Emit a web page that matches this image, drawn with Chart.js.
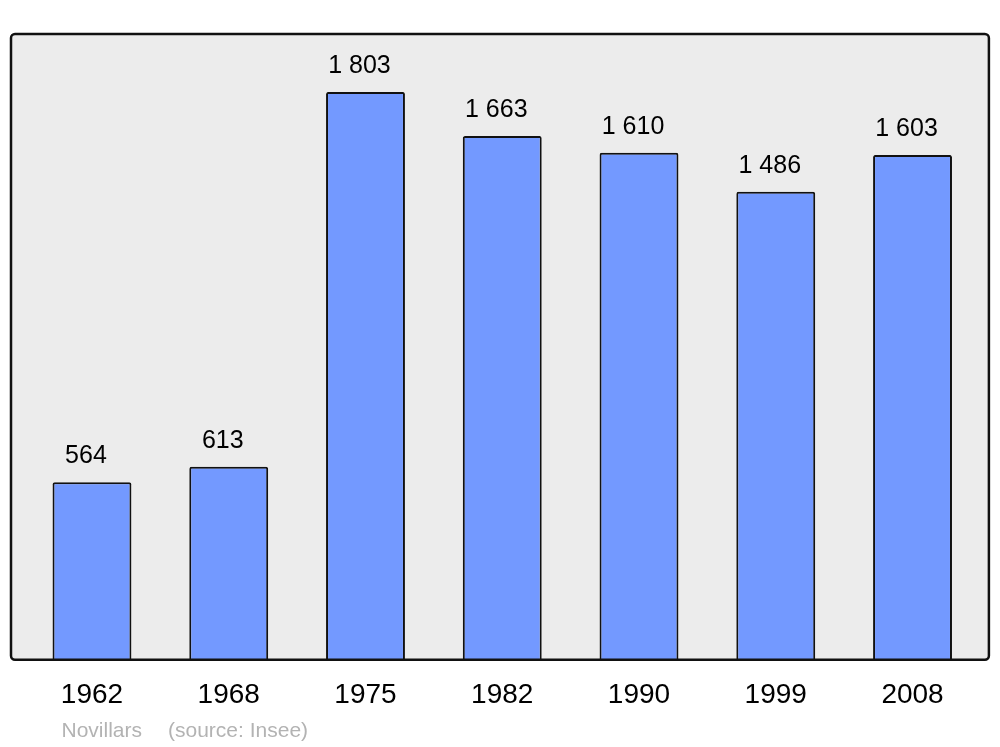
<!DOCTYPE html>
<html>
<head>
<meta charset="utf-8">
<script src="https://cdn.jsdelivr.net/npm/chart.js@4/dist/chart.umd.min.js"></script>
<style>
html,body{margin:0;padding:0;background:#fff;}
#wrap{width:1000px;height:747px;position:relative;}
</style>
</head>
<body>
<div id="wrap"><canvas id="c" width="1000" height="747"></canvas></div>
<script>
const years = ['1962','1968','1975','1982','1990','1999','2008'];
const population = [564, 613, 1803, 1663, 1610, 1486, 1603];
const valueLabels = ['564','613','1 803','1 663','1 610','1 486','1 603'];
const placeName = 'Novillars';
const sourceText = '(source: Insee)';

const frameAndLabels = {
  id: 'frameAndLabels',
  beforeDraw(chart) {
    const ctx = chart.ctx, a = chart.chartArea;
    const x0 = a.left - 12.6, x1 = a.right + 8, y0 = a.top, y1 = a.bottom;
    ctx.save();
    ctx.beginPath();
    ctx.roundRect(x0, y0, x1 - x0, y1 - y0, 4);
    ctx.fillStyle = '#ececec';
    ctx.fill();
    ctx.restore();
  },
  afterDatasetsDraw(chart) {
    const ctx = chart.ctx, a = chart.chartArea;
    const x0 = a.left - 12.6, x1 = a.right + 8, y0 = a.top, y1 = a.bottom;
    ctx.save();
    ctx.beginPath();
    ctx.roundRect(x0, y0, x1 - x0, y1 - y0, 4);
    ctx.lineWidth = 2.5;
    ctx.strokeStyle = '#111';
    ctx.stroke();
    const meta = chart.getDatasetMeta(0);
    ctx.fillStyle = '#000';
    ctx.font = '25px "Liberation Sans", Arial, sans-serif';
    ctx.textAlign = 'center';
    ctx.textBaseline = 'alphabetic';
    meta.data.forEach((bar, i) => {
      ctx.fillText(valueLabels[i], bar.x - 6, bar.y - 19);
    });
    ctx.fillStyle = '#b3b3b3';
    ctx.font = '21px "Liberation Sans", Arial, sans-serif';
    ctx.textAlign = 'left';
    ctx.fillText(placeName, 61.5, 737);
    ctx.fillText(sourceText, 168, 737);
    ctx.restore();
  }
};

new Chart(document.getElementById('c'), {
  type: 'bar',
  data: {
    labels: years,
    datasets: [{
      data: population,
      backgroundColor: '#7399ff',
      borderColor: '#111',
      borderWidth: 2,
      borderRadius: 2,
      borderSkipped: 'start',
      categoryPercentage: 1,
      barPercentage: 0.577
    }]
  },
  options: {
    responsive: false,
    animation: false,
    devicePixelRatio: 1,
    layout: { padding: { left: 23.6, right: 19.1, top: 34, bottom: 15.6 } },
    plugins: { legend: { display: false }, tooltip: { enabled: false }, title: { display: false } },
    scales: {
      x: {
        display: true,
        grid: { display: false, drawTicks: false },
        border: { display: false },
        ticks: {
          color: '#000',
          padding: 19,
          font: { size: 28, family: '"Liberation Sans", Arial, sans-serif' },
          maxRotation: 0
        }
      },
      y: { display: false, min: 0, max: 1987 }
    }
  },
  plugins: [frameAndLabels]
});
</script>
</body>
</html>
